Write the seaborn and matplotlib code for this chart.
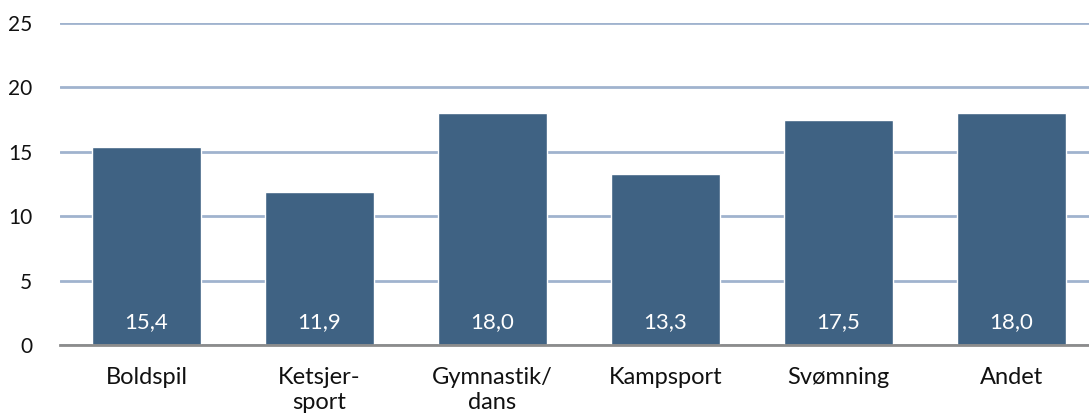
import numpy as np
import pandas as pd
import seaborn as sns
import matplotlib.pyplot as plt
from matplotlib.ticker import FixedLocator

# data
categories = ["Boldspil", "Ketsjer-\nsport", "Gymnastik/\ndans", "Kampsport", "Svømning", "Andet"]
values = [15.4, 11.9, 18.0, 13.3, 17.5, 18.0]
value_labels = ["15,4", "11,9", "18,0", "13,3", "17,5", "18,0"]
yticks = [0, 5, 10, 15, 20, 25]

df = pd.DataFrame({"kategori": categories, "andel": values})

sns.set_style("white")
plt.rcParams['font.family'] = ['Lato', 'DejaVu Sans']

fig = plt.figure(figsize=(10.89, 4.16), dpi=100)
ax = fig.add_axes([60 / 1089, 1 - 345 / 416, 1038 / 1089, (345 - 23) / 416])

sns.barplot(data=df, x="kategori", y="andel", color="#3F6283", width=0.625,
            saturation=1, ax=ax, zorder=3)

ax.set_ylim(0, 25)
ax.set_xlim(-0.5, len(categories) - 0.5)
ax.set_yticks(yticks)
ax.set_yticklabels([str(t) for t in yticks], fontsize=15, color="#111111")
ax.yaxis.grid(True, color="#A0B3CE", linewidth=2, zorder=0)
ax.set_axisbelow(True)

for s in ["left", "right", "top"]:
    ax.spines[s].set_visible(False)
ax.spines["bottom"].set_color("#8C8C8C")
ax.spines["bottom"].set_linewidth(2)
ax.spines["bottom"].set_zorder(4)

ax.tick_params(axis="y", length=0, pad=20)
ax.tick_params(axis="x", which="major", length=0, pad=15.5, labelsize=17, labelcolor="#111111")
for t in ax.get_xticklabels():
    t.set_linespacing(1.25)
ax.xaxis.set_minor_locator(FixedLocator(np.arange(-0.5, len(categories), 1.0)))
ax.tick_params(axis="x", which="minor", length=5, width=1.5, color="#8C8C8C", direction="out")

ax.set_xlabel("")
ax.set_ylabel("")

for i, (v, lab) in enumerate(zip(values, value_labels)):
    ax.text(i, 1.75, lab, ha="center", va="center", color="white", fontsize=16, zorder=5)

fig.savefig("out.png", dpi=100)
